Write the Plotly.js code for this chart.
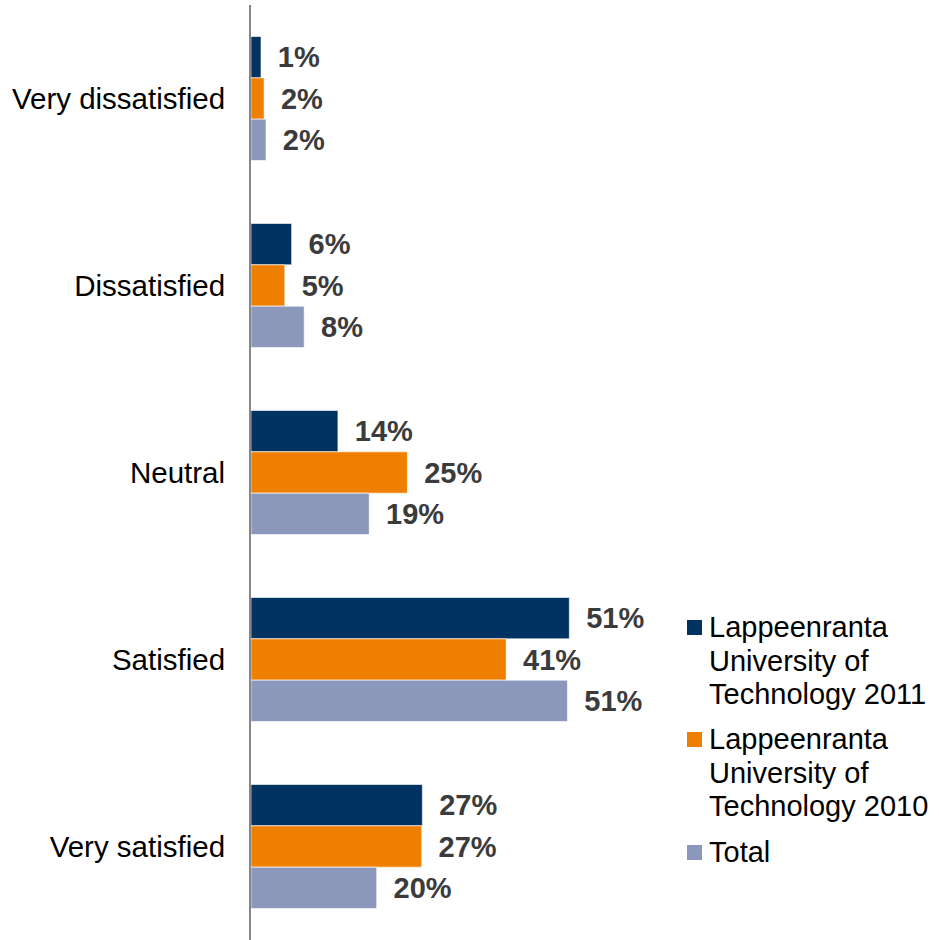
<!DOCTYPE html>
<html>
<head>
<meta charset="utf-8">
<script src="https://cdn.plot.ly/plotly-3.0.1.min.js"></script>
<style>html,body{margin:0;padding:0;background:#fff;}#chart{width:939px;height:940px;}</style>
</head>
<body>
<div id="chart"></div>
<script>
const categories = ["Very dissatisfied", "Dissatisfied", "Neutral", "Satisfied", "Very satisfied"];
const seriesNames = ["Lappeenranta<br>University of<br>Technology 2011", "Lappeenranta<br>University of<br>Technology 2010", "Total"];
const values2011 = [1.6, 6.5, 13.9, 50.9, 27.4];
const values2010 = [2.1, 5.4, 25.0, 40.8, 27.3];
const valuesTotal = [2.4, 8.5, 18.9, 50.6, 20.1];
const labels2011 = ["1%", "6%", "14%", "51%", "27%"];
const labels2010 = ["2%", "5%", "25%", "41%", "27%"];
const labelsTotal = ["2%", "8%", "19%", "51%", "20%"];
const colors = ["#003361", "#EE7F00", "#8B97BB"];

const allValues = [values2011, values2010, valuesTotal];
const allLabels = [labels2011, labels2010, labelsTotal];

const FONT = "Liberation Sans, Arial, sans-serif";
const W = 939, H = 940;
const plotL = 251, plotR = 660, plotT = 5, plotB = 940;
const fx = px => (px - plotL) / (plotR - plotL);
const fy = py => (plotB - py) / (plotB - plotT);

const traces = allValues.map((vals, i) => ({
  type: "bar",
  orientation: "h",
  name: seriesNames[i],
  y: categories,
  x: vals,
  text: allLabels[i].map(t => "\u00a0\u2009" + t),
  textposition: "outside",
  constraintext: "none",
  cliponaxis: false,
  textfont: {family: FONT, size: 29, color: "#3b3b3b", weight: "bold"},
  marker: {color: colors[i], line: {color: "rgba(255,255,255,0.6)", width: 1}},
  hoverinfo: "skip",
  showlegend: false
}));

// Custom legend (tight line spacing like the original)
const legendFirstBaselines = [637, 749, 862];
const lineStep = 33.5;
const legendFont = 29;
const annotations = [];
const shapes = [];
seriesNames.forEach((name, i) => {
  const base = legendFirstBaselines[i];
  shapes.push({type: "rect", xref: "paper", yref: "paper",
    x0: fx(687), x1: fx(702), y0: fy(base - 2), y1: fy(base - 17),
    fillcolor: colors[i], line: {width: 0}});
  name.split("<br>").forEach((line, j) => {
    const bl = base + j * lineStep;
    annotations.push({xref: "paper", yref: "paper", x: fx(707), y: fy(bl - 10),
      xanchor: "left", yanchor: "middle", text: line, showarrow: false,
      font: {family: FONT, size: legendFont, color: "#000000"}});
  });
});

const layout = {
  width: W,
  height: H,
  margin: {l: plotL, r: W - plotR, t: plotT, b: H - plotB, pad: 0},
  paper_bgcolor: "#ffffff",
  plot_bgcolor: "#ffffff",
  barmode: "group",
  bargap: 0.337,
  bargroupgap: 0,
  font: {family: FONT, size: 29.5, color: "#000000"},
  xaxis: {range: [0, 65.4], showgrid: false, zeroline: false, showline: false, showticklabels: false, ticks: "", fixedrange: true},
  yaxis: {autorange: "reversed", showgrid: false, zeroline: false, showline: true, linecolor: "#868686", linewidth: 2,
          ticks: "", ticklabelstandoff: 18, tickfont: {family: FONT, size: 29.5, color: "#000000"}, fixedrange: true},
  showlegend: false,
  annotations: annotations,
  shapes: shapes
};

Plotly.newPlot("chart", traces, layout, {displayModeBar: false, staticPlot: true});
</script>
</body>
</html>
